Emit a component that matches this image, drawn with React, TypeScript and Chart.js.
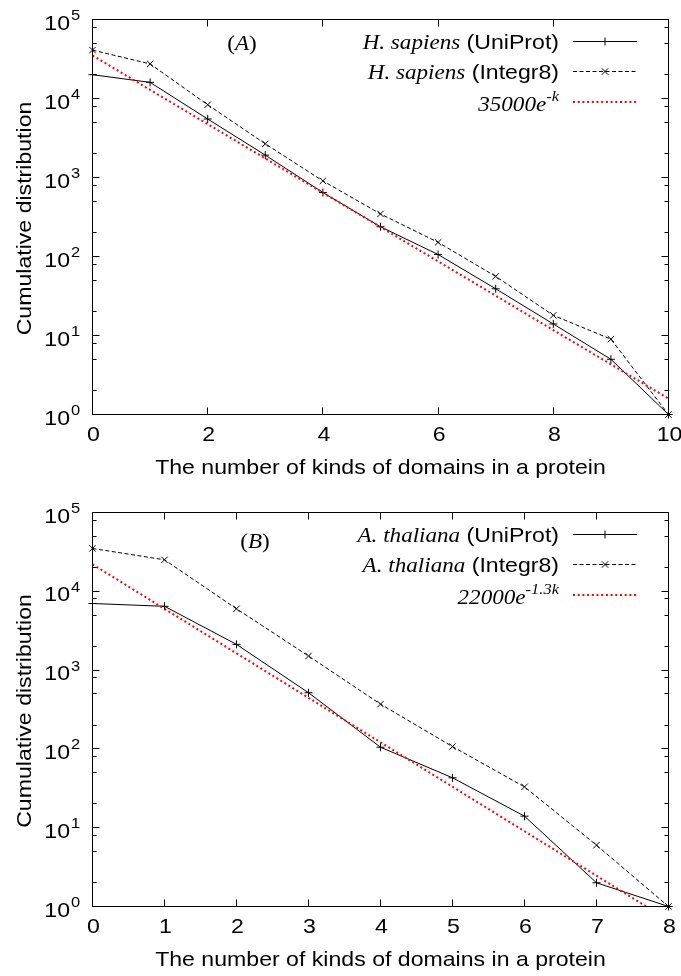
import React, { useEffect, useRef } from "react";
import { Chart, registerables } from "chart.js";

Chart.register(...registerables);

// ---------- data ----------
const kA = [0, 1, 2, 3, 4, 5, 6, 7, 8, 9, 10];
const hsUniProt = [20000, 16000, 5500, 1920, 645, 238, 106, 39, 14, 5, 1];
const hsIntegr8 = [41000, 27400, 8330, 2670, 905, 346, 151, 56, 18, 9, 1];
const hsFit = [35000, 12876, 4737, 1743, 641, 236, 86.7, 31.9, 11.7, 4.32, 1.59];
const xTicksA = [0, 2, 4, 6, 8, 10];

const kB = [0, 1, 2, 3, 4, 5, 6, 7, 8];
const atUniProt = [7000, 6450, 2120, 516, 105, 43, 14, 2, 1];
const atIntegr8 = [35000, 25100, 6000, 1510, 370, 107, 33, 6, 1];
const atFit = [22000, 5996, 1634, 445, 121.4, 33.1, 9.01, 2.46, 0.67];
const xTicksB = [0, 1, 2, 3, 4, 5, 6, 7, 8];

const yDecades = [1, 10, 100, 1000, 10000, 100000];
const yExponents = ["0", "1", "2", "3", "4", "5"];
const minorMultiples = [2, 5, 8];

const xTitle = "The number of kinds of domains in a protein";
const yTitle = "Cumulative distribution";

// ---------- styling ----------
const W = 681;
const H = 488;
const SANS = '"Liberation Sans", Arial, Helvetica, sans-serif';
const SERIF = '"Liberation Serif", "Times New Roman", serif';
const F_SANS = `21px ${SANS}`;
const F_SUP = `15px ${SANS}`;
const F_SERIF = `21px ${SERIF}`;
const F_ISERIF = `italic 21px ${SERIF}`;
const F_ISUP = `italic 15px ${SERIF}`;
const SX = 1.1;

type Seg = { t: string; font: string; dy?: number };

function drawRun(
  ctx: CanvasRenderingContext2D,
  segs: Seg[],
  x: number,
  y: number,
  align: "left" | "right" | "center"
) {
  const widths = segs.map((s) => {
    ctx.font = s.font;
    return ctx.measureText(s.t).width * SX;
  });
  const total = widths.reduce((a, b) => a + b, 0);
  let cx = align === "right" ? x - total : align === "center" ? x - total / 2 : x;
  segs.forEach((s, i) => {
    ctx.save();
    ctx.font = s.font;
    ctx.textAlign = "left";
    ctx.textBaseline = "alphabetic";
    ctx.translate(cx, y + (s.dy || 0));
    ctx.scale(SX, 1);
    ctx.fillText(s.t, 0, 0);
    ctx.restore();
    cx += widths[i];
  });
}

type PanelCfg = {
  ks: number[];
  uni: number[];
  int: number[];
  fit: number[];
  xMax: number;
  xTicks: number[];
  pad: { top: number; bottom: number; left: number; right: number };
  legend: Seg[][];
  tag: Seg[];
  tagX: number;
  tagY: number;
  rowOffsets: number[];
};

const panelA: PanelCfg = {
  ks: kA,
  uni: hsUniProt,
  int: hsIntegr8,
  fit: hsFit,
  xMax: 10,
  xTicks: xTicksA,
  pad: { top: 19.5, bottom: 73.5, left: 92.5, right: 12.5 },
  legend: [
    [
      { t: "H. sapiens", font: F_ISERIF },
      { t: " (UniProt)", font: F_SANS },
    ],
    [
      { t: "H. sapiens", font: F_ISERIF },
      { t: " (Integr8)", font: F_SANS },
    ],
    [
      { t: "35000e", font: F_ISERIF, dy: 9.5 },
      { t: "-k", font: F_ISUP, dy: -1 },
    ],
  ],
  tag: [
    { t: "(", font: F_SERIF },
    { t: "A", font: F_ISERIF },
    { t: ")", font: F_SERIF },
  ],
  tagX: 242,
  tagY: 50,
  rowOffsets: [22, 52, 82],
};

const panelB: PanelCfg = {
  ks: kB,
  uni: atUniProt,
  int: atIntegr8,
  fit: atFit,
  xMax: 8,
  xTicks: xTicksB,
  pad: { top: 24.5, bottom: 69.5, left: 92.5, right: 12.5 },
  legend: [
    [
      { t: "A. thaliana", font: F_ISERIF },
      { t: " (UniProt)", font: F_SANS },
    ],
    [
      { t: "A. thaliana", font: F_ISERIF },
      { t: " (Integr8)", font: F_SANS },
    ],
    [
      { t: "22000e", font: F_ISERIF, dy: 9.5 },
      { t: "-1.3k", font: F_ISUP, dy: -1 },
    ],
  ],
  tag: [
    { t: "(", font: F_SERIF },
    { t: "B", font: F_ISERIF },
    { t: ")", font: F_SERIF },
  ],
  tagX: 255,
  tagY: 60,
  rowOffsets: [22, 52, 82],
};

const crisp = (v: number) => Math.round(v - 0.5) + 0.5;

function makeDecor(cfg: PanelCfg) {
  return {
    id: "gnuplotDecor",
    afterDraw(chart: any) {
      const ctx: CanvasRenderingContext2D = chart.ctx;
      const a = chart.chartArea;
      const xs = chart.scales.x;
      const ys = chart.scales.y;
      ctx.save();
      ctx.strokeStyle = "#000";
      ctx.fillStyle = "#000";
      ctx.lineWidth = 1;
      ctx.setLineDash([]);

      // border
      ctx.strokeRect(a.left, a.top, a.right - a.left, a.bottom - a.top);

      // y ticks
      ctx.beginPath();
      yDecades.forEach((d, i) => {
        const py = crisp(ys.getPixelForValue(d));
        if (i > 0 && i < yDecades.length - 1) {
          ctx.moveTo(a.left, py);
          ctx.lineTo(a.left + 7, py);
          ctx.moveTo(a.right, py);
          ctx.lineTo(a.right - 7, py);
        }
        if (i < yDecades.length - 1) {
          minorMultiples.forEach((m) => {
            const my = crisp(ys.getPixelForValue(d * m));
            ctx.moveTo(a.left, my);
            ctx.lineTo(a.left + 4, my);
            ctx.moveTo(a.right, my);
            ctx.lineTo(a.right - 4, my);
          });
        }
      });
      // x ticks
      cfg.xTicks.forEach((t, i) => {
        if (i === 0 || i === cfg.xTicks.length - 1) return;
        const px = crisp(xs.getPixelForValue(t));
        ctx.moveTo(px, a.bottom);
        ctx.lineTo(px, a.bottom - 7);
        ctx.moveTo(px, a.top);
        ctx.lineTo(px, a.top + 7);
      });
      ctx.stroke();

      // y tick labels
      yDecades.forEach((d, i) => {
        const py = ys.getPixelForValue(d);
        drawRun(ctx, [{ t: "10", font: F_SANS }], 70, py + 10, "right");
        drawRun(ctx, [{ t: yExponents[i], font: F_SUP }], 71, py + 0.5, "left");
      });
      // x tick labels
      cfg.xTicks.forEach((t) => {
        const px = xs.getPixelForValue(t);
        drawRun(ctx, [{ t: String(t), font: F_SANS }], px + 1, a.bottom + 26.5, "center");
      });

      // axis titles
      drawRun(ctx, [{ t: xTitle, font: F_SANS }], (a.left + a.right) / 2, a.bottom + 59, "center");
      ctx.save();
      ctx.translate(30.5, (a.top + a.bottom) / 2 + 1.5);
      ctx.rotate(-Math.PI / 2);
      drawRun(ctx, [{ t: yTitle, font: F_SANS }], 0, 0, "center");
      ctx.restore();

      // panel tag
      drawRun(ctx, cfg.tag, cfg.tagX, cfg.tagY, "center");

      // legend
      const lx0 = 573;
      const lx1 = 637;
      const mx = 605;
      cfg.rowOffsets.forEach((off, i) => {
        const ry = crisp(a.top + off);
        const base = i < 2 ? ry + 7 : ry;
        drawRun(ctx, cfg.legend[i], 559, base, "right");
        ctx.save();
        ctx.beginPath();
        if (i === 0) {
          ctx.strokeStyle = "#000";
          ctx.lineWidth = 1;
          ctx.setLineDash([]);
          ctx.moveTo(lx0, ry);
          ctx.lineTo(lx1, ry);
          ctx.stroke();
          ctx.beginPath();
          ctx.moveTo(mx, ry - 4);
          ctx.lineTo(mx, ry + 4);
          ctx.stroke();
        } else if (i === 1) {
          ctx.strokeStyle = "#000";
          ctx.lineWidth = 1;
          ctx.setLineDash([4, 2.5]);
          ctx.moveTo(lx0, ry);
          ctx.lineTo(lx1, ry);
          ctx.stroke();
          ctx.setLineDash([]);
          ctx.beginPath();
          ctx.moveTo(mx - 3.2, ry - 3.2);
          ctx.lineTo(mx + 3.2, ry + 3.2);
          ctx.moveTo(mx - 3.2, ry + 3.2);
          ctx.lineTo(mx + 3.2, ry - 3.2);
          ctx.stroke();
        } else {
          ctx.strokeStyle = "#ff0000";
          ctx.lineWidth = 2;
          ctx.setLineDash([2, 2.7]);
          ctx.moveTo(lx0, ry + 0.5);
          ctx.lineTo(lx1, ry + 0.5);
          ctx.stroke();
        }
        ctx.restore();
      });

      ctx.restore();
    },
  };
}

function Panel({ cfg }: { cfg: PanelCfg }) {
  const ref = useRef<HTMLCanvasElement | null>(null);
  useEffect(() => {
    if (!ref.current) return;
    const pts = (vals: number[]) => cfg.ks.map((k, i) => ({ x: k, y: vals[i] }));
    const chart = new Chart(ref.current, {
      type: "line",
      data: {
        datasets: [
          {
            label: "UniProt",
            data: pts(cfg.uni),
            borderColor: "#000",
            borderWidth: 1,
            pointStyle: "cross",
            pointRadius: 4,
            pointBorderWidth: 1,
            pointBorderColor: "#000",
            pointBackgroundColor: "#000",
            tension: 0,
            clip: false,
            order: 2,
          },
          {
            label: "Integr8",
            data: pts(cfg.int),
            borderColor: "#000",
            borderWidth: 1,
            borderDash: [4, 2.5],
            pointStyle: "crossRot",
            pointRadius: 4.5,
            pointBorderWidth: 1,
            pointBorderColor: "#000",
            pointBackgroundColor: "#000",
            tension: 0,
            clip: false,
            order: 1,
          },
          {
            label: "fit",
            data: pts(cfg.fit),
            borderColor: "#ff0000",
            borderWidth: 2,
            borderDash: [2, 2.7],
            pointRadius: 0,
            tension: 0,
            order: 0,
          },
        ],
      } as any,
      options: {
        animation: false,
        responsive: false,
        events: [],
        layout: { padding: cfg.pad },
        scales: {
          x: { type: "linear", min: 0, max: cfg.xMax, display: false },
          y: { type: "logarithmic", min: 1, max: 100000, display: false },
        },
        plugins: {
          legend: { display: false },
          tooltip: { enabled: false },
        },
      } as any,
      plugins: [makeDecor(cfg)],
    });
    return () => chart.destroy();
  }, [cfg]);
  return (
    <canvas
      ref={ref}
      width={W}
      height={H}
      style={{ display: "block", width: W, height: H }}
    />
  );
}

export default function App() {
  return (
    <div
      style={{
        position: "absolute",
        left: 0,
        top: 0,
        width: W,
        height: 2 * H,
        background: "#fff",
      }}
    >
      <Panel cfg={panelA} />
      <Panel cfg={panelB} />
    </div>
  );
}
